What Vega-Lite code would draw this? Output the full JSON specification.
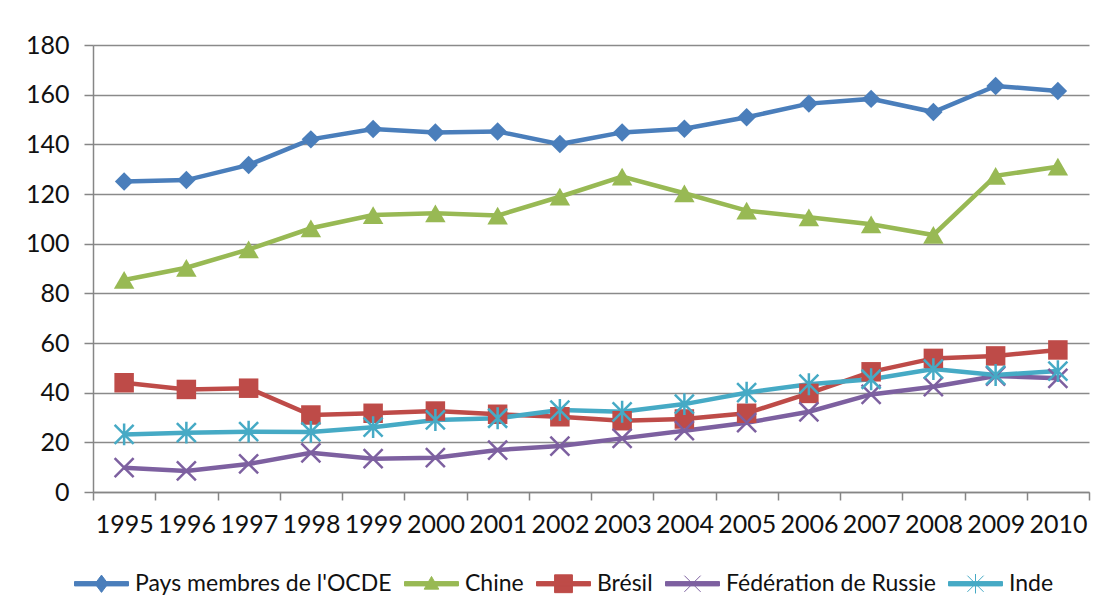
{
  "$schema": "https://vega.github.io/schema/vega-lite/v6.json",
  "autosize": "none",
  "width": 996,
  "height": 447,
  "padding": {"left": 93, "top": 45, "right": 16, "bottom": 123},
  "background": "white",
  "config": {
    "font": "Lato",
    "view": {"stroke": null},
    "axis": {"labelFont": "Lato", "labelFontSize": 25, "labelColor": "#111111", "domainColor": "#868686", "tickColor": "#868686", "gridColor": "#8a8a8a", "domainWidth": 1.5, "tickWidth": 1.5, "gridWidth": 1.5}
  },
  "data": {
    "values": [
      {"year": 1995, "series": "Pays membres de l'OCDE", "value": 125.0},
      {"year": 1996, "series": "Pays membres de l'OCDE", "value": 125.6},
      {"year": 1997, "series": "Pays membres de l'OCDE", "value": 131.7},
      {"year": 1998, "series": "Pays membres de l'OCDE", "value": 142.0},
      {"year": 1999, "series": "Pays membres de l'OCDE", "value": 146.2},
      {"year": 2000, "series": "Pays membres de l'OCDE", "value": 144.8},
      {"year": 2001, "series": "Pays membres de l'OCDE", "value": 145.2},
      {"year": 2002, "series": "Pays membres de l'OCDE", "value": 140.1},
      {"year": 2003, "series": "Pays membres de l'OCDE", "value": 144.8},
      {"year": 2004, "series": "Pays membres de l'OCDE", "value": 146.3},
      {"year": 2005, "series": "Pays membres de l'OCDE", "value": 150.9},
      {"year": 2006, "series": "Pays membres de l'OCDE", "value": 156.4},
      {"year": 2007, "series": "Pays membres de l'OCDE", "value": 158.3},
      {"year": 2008, "series": "Pays membres de l'OCDE", "value": 153.0},
      {"year": 2009, "series": "Pays membres de l'OCDE", "value": 163.5},
      {"year": 2010, "series": "Pays membres de l'OCDE", "value": 161.5},
      {"year": 1995, "series": "Chine", "value": 85.4},
      {"year": 1996, "series": "Chine", "value": 90.3},
      {"year": 1997, "series": "Chine", "value": 97.7},
      {"year": 1998, "series": "Chine", "value": 106.2},
      {"year": 1999, "series": "Chine", "value": 111.5},
      {"year": 2000, "series": "Chine", "value": 112.2},
      {"year": 2001, "series": "Chine", "value": 111.3},
      {"year": 2002, "series": "Chine", "value": 118.9},
      {"year": 2003, "series": "Chine", "value": 127.0},
      {"year": 2004, "series": "Chine", "value": 120.3},
      {"year": 2005, "series": "Chine", "value": 113.3},
      {"year": 2006, "series": "Chine", "value": 110.6},
      {"year": 2007, "series": "Chine", "value": 107.8},
      {"year": 2008, "series": "Chine", "value": 103.5},
      {"year": 2009, "series": "Chine", "value": 127.3},
      {"year": 2010, "series": "Chine", "value": 131.0},
      {"year": 1995, "series": "Brésil", "value": 44.0},
      {"year": 1996, "series": "Brésil", "value": 41.3},
      {"year": 1997, "series": "Brésil", "value": 41.8},
      {"year": 1998, "series": "Brésil", "value": 31.0},
      {"year": 1999, "series": "Brésil", "value": 31.7},
      {"year": 2000, "series": "Brésil", "value": 32.6},
      {"year": 2001, "series": "Brésil", "value": 31.3},
      {"year": 2002, "series": "Brésil", "value": 30.3},
      {"year": 2003, "series": "Brésil", "value": 28.7},
      {"year": 2004, "series": "Brésil", "value": 29.4},
      {"year": 2005, "series": "Brésil", "value": 31.7},
      {"year": 2006, "series": "Brésil", "value": 39.7},
      {"year": 2007, "series": "Brésil", "value": 48.4},
      {"year": 2008, "series": "Brésil", "value": 53.8},
      {"year": 2009, "series": "Brésil", "value": 54.8},
      {"year": 2010, "series": "Brésil", "value": 57.2},
      {"year": 1995, "series": "Fédération de Russie", "value": 9.8},
      {"year": 1996, "series": "Fédération de Russie", "value": 8.5},
      {"year": 1997, "series": "Fédération de Russie", "value": 11.3},
      {"year": 1998, "series": "Fédération de Russie", "value": 15.8},
      {"year": 1999, "series": "Fédération de Russie", "value": 13.4},
      {"year": 2000, "series": "Fédération de Russie", "value": 13.8},
      {"year": 2001, "series": "Fédération de Russie", "value": 16.9},
      {"year": 2002, "series": "Fédération de Russie", "value": 18.5},
      {"year": 2003, "series": "Fédération de Russie", "value": 21.6},
      {"year": 2004, "series": "Fédération de Russie", "value": 24.7},
      {"year": 2005, "series": "Fédération de Russie", "value": 27.9},
      {"year": 2006, "series": "Fédération de Russie", "value": 32.3},
      {"year": 2007, "series": "Fédération de Russie", "value": 39.3},
      {"year": 2008, "series": "Fédération de Russie", "value": 42.4},
      {"year": 2009, "series": "Fédération de Russie", "value": 46.7},
      {"year": 2010, "series": "Fédération de Russie", "value": 45.8},
      {"year": 1995, "series": "Inde", "value": 23.2},
      {"year": 1996, "series": "Inde", "value": 23.9},
      {"year": 1997, "series": "Inde", "value": 24.3},
      {"year": 1998, "series": "Inde", "value": 24.2},
      {"year": 1999, "series": "Inde", "value": 26.1},
      {"year": 2000, "series": "Inde", "value": 29.0},
      {"year": 2001, "series": "Inde", "value": 29.7},
      {"year": 2002, "series": "Inde", "value": 33.0},
      {"year": 2003, "series": "Inde", "value": 32.3},
      {"year": 2004, "series": "Inde", "value": 35.4},
      {"year": 2005, "series": "Inde", "value": 40.0},
      {"year": 2006, "series": "Inde", "value": 43.4},
      {"year": 2007, "series": "Inde", "value": 45.4},
      {"year": 2008, "series": "Inde", "value": 49.5},
      {"year": 2009, "series": "Inde", "value": 47.1},
      {"year": 2010, "series": "Inde", "value": 48.7}
    ]
  },
  "encoding": {
    "x": {
      "field": "year", "type": "ordinal",
      "scale": {"type": "band", "paddingInner": 0, "paddingOuter": 0},
      "axis": {"title": null, "labelAngle": 0, "tickBand": "extent", "tickSize": 8, "labelPadding": 12, "grid": false}
    },
    "y": {
      "field": "value", "type": "quantitative",
      "scale": {"domain": [0, 180], "nice": false},
      "axis": {"title": null, "values": [0, 20, 40, 60, 80, 100, 120, 140, 160, 180], "tickSize": 9, "labelPadding": 15, "grid": true}
    },
    "color": {
      "field": "series", "type": "nominal",
      "scale": {
        "domain": ["Pays membres de l'OCDE", "Chine", "Brésil", "Fédération de Russie", "Inde"],
        "range": ["#4A7EBB", "#98B954", "#BE4B48", "#7D60A0", "#46AAC5"]
      },
      "legend": {
        "title": null,
        "orient": "none",
        "direction": "horizontal",
        "legendX": -19,
        "legendY": 511,
        "padding": 0,
        "columnPadding": 10,
        "labelOffset": 6,
        "labelLimit": 400,
        "labelFont": "Lato",
        "labelFontSize": 23,
        "labelColor": "#111111",
        "symbolSize": 2916,
        "encode": {
          "symbols": {
            "update": {
              "shape": {"signal": "datum.value === 'Chine' ? 'M-1,-0.08H1V0.08H-1ZM0,-0.27L0.27,0.2L-0.27,0.2Z' : datum.value === 'Brésil' ? 'M-1,-0.08H1V0.08H-1ZM-0.33,-0.33H0.33V0.33H-0.33Z' : datum.value === 'Fédération de Russie' ? 'M-1,-0.08H1V0.08H-1ZM-0.3,-0.3L0.3,0.3M-0.3,0.3L0.3,-0.3' : datum.value === 'Inde' ? 'M-1,-0.08H1V0.08H-1ZM-0.3,-0.3L0.3,0.3M-0.3,0.3L0.3,-0.3M0,-0.36V0.36' : 'M-1,-0.08H1V0.08H-1ZM0,-0.32L0.24,0L0,0.32L-0.24,0Z'"},
              "fill": {"scale": "color", "field": "value"},
              "stroke": {"scale": "color", "field": "value"},
              "strokeWidth": {"value": 1},
              "size": {"value": 2916},
              "opacity": {"value": 1}
            }
          }
        }
      }
    }
  },
  "layer": [
    {
      "mark": {"type": "line", "strokeWidth": 4.5},
      "encoding": {"detail": {"field": "series"}}
    },
    {
      "transform": [{"filter": "datum.series === \"Pays membres de l'OCDE\""}],
      "mark": {"type": "point", "shape": "diamond", "filled": true, "opacity": 1, "size": 340}
    },
    {
      "transform": [{"filter": "datum.series === 'Chine'"}],
      "mark": {"type": "point", "shape": "triangle-up", "filled": true, "opacity": 1, "size": 420}
    },
    {
      "transform": [{"filter": "datum.series === 'Brésil'"}],
      "mark": {"type": "point", "shape": "square", "filled": true, "opacity": 1, "size": 380}
    },
    {
      "transform": [{"filter": "datum.series === 'Fédération de Russie'"}],
      "mark": {"type": "point", "shape": "M-1,-1L1,1M-1,1L1,-1", "filled": false, "opacity": 1, "strokeWidth": 2.5, "size": 361}
    },
    {
      "transform": [{"filter": "datum.series === 'Inde'"}],
      "mark": {"type": "point", "shape": "M-1,-1L1,1M-1,1L1,-1M0,-1.15L0,1.15", "filled": false, "opacity": 1, "strokeWidth": 2.5, "size": 361}
    }
  ]
}
